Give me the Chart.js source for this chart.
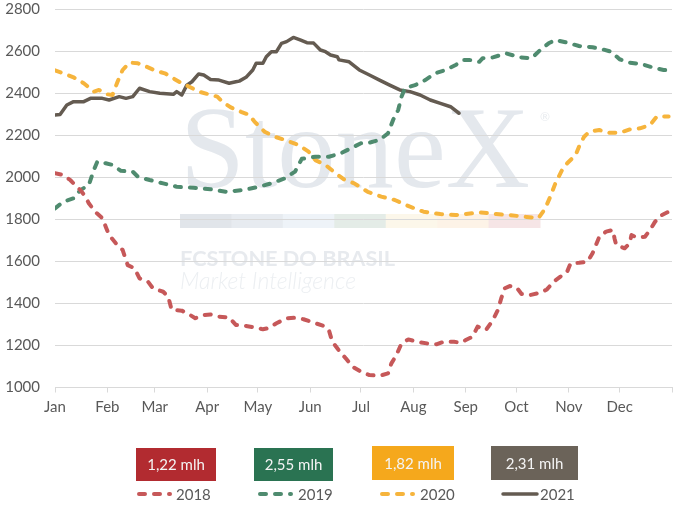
<!DOCTYPE html>
<html>
<head>
<meta charset="utf-8">
<script src="https://cdn.jsdelivr.net/npm/chart.js@4.4.0/dist/chart.umd.min.js"></script>
<style>
  html, body { margin: 0; padding: 0; background: #ffffff; }
  canvas { display: block; }
</style>
</head>
<body>
<canvas id="c" width="683" height="521"></canvas>
<script>
// ---------- DATA ----------
const monthLabels = ['Jan','Feb','Mar','Apr','May','Jun','Jul','Aug','Sep','Oct','Nov','Dec'];
const monthStartDays = [0,31,59,90,120,151,181,212,243,273,304,334,365];
const seriesNames = ['2018','2019','2020','2021'];
const boxLabels = ['1,22 mlh','2,55 mlh','1,82 mlh','2,31 mlh'];

const days2018 = [0,5,9,15,18,20,24,28,30,32,36,40,43,47,50,55,58,64,67,69,75,80,83,88,92,97,103,107,113,119,123,126,131,137,142,147,153,159,162,164,167,169,172,176,181,186,192,197,199,202,205,209,214,220,226,230,236,240,243,247,250,255,259,262,264,266,269,273,276,281,287,291,295,299,303,305,310,315,318,322,326,330,331,332,337,340,341,344,349,352,355,359,363,365];
const vals2018 = [2020,2012,1988,1940,1909,1877,1835,1806,1766,1726,1687,1655,1583,1568,1520,1504,1472,1456,1432,1369,1366,1345,1330,1345,1348,1337,1334,1298,1293,1285,1277,1282,1306,1330,1332,1325,1309,1293,1274,1218,1187,1165,1139,1099,1075,1059,1056,1067,1115,1155,1210,1229,1218,1210,1206,1218,1218,1213,1226,1242,1290,1274,1321,1369,1425,1472,1483,1477,1445,1440,1451,1467,1504,1528,1552,1591,1594,1599,1639,1718,1742,1750,1710,1679,1663,1687,1726,1715,1718,1750,1790,1821,1837,1853];

const days2019 = [0,5,11,15,20,23,25,30,34,39,46,49,56,64,72,82,92,101,111,119,128,136,142,146,154,162,169,175,181,186,192,197,200,203,205,207,213,219,225,231,237,242,245,251,253,259,267,275,282,287,292,296,303,310,318,324,329,334,340,347,354,360,365];
const vals2019 = [1853,1885,1901,1940,1964,2036,2075,2068,2060,2032,2028,2004,1988,1972,1956,1951,1944,1932,1940,1953,1972,1996,2028,2089,2099,2099,2115,2139,2163,2166,2179,2210,2274,2321,2385,2425,2440,2464,2496,2512,2536,2560,2560,2551,2568,2572,2591,2572,2568,2607,2639,2655,2642,2626,2620,2610,2599,2563,2547,2540,2523,2512,2509];

const days2020 = [0,5,11,17,23,26,31,34,37,40,44,49,54,60,65,70,75,80,85,91,96,99,104,110,115,118,124,130,136,144,150,154,160,166,171,177,185,193,201,210,218,228,237,243,251,261,269,279,286,290,293,296,300,303,308,310,313,316,322,328,334,340,346,352,356,363];
const vals2020 = [2510,2496,2477,2449,2409,2417,2396,2393,2456,2512,2547,2544,2528,2507,2496,2472,2449,2430,2409,2396,2385,2361,2334,2313,2298,2266,2218,2194,2179,2155,2123,2083,2060,2020,1991,1972,1932,1909,1893,1861,1837,1826,1821,1826,1834,1826,1821,1812,1806,1853,1909,1972,2036,2068,2107,2147,2194,2218,2226,2213,2213,2229,2234,2250,2290,2290];

const days2021 = [0,3,7,11,17,21,28,32,38,42,46,50,56,62,70,72,75,78,81,85,88,92,97,103,107,109,113,117,119,123,125,128,131,134,137,141,145,149,153,157,160,163,167,168,174,180,186,192,198,204,210,216,222,228,234,239];
const vals2021 = [2298,2300,2345,2361,2361,2377,2377,2369,2385,2377,2385,2425,2409,2401,2396,2409,2393,2440,2456,2493,2488,2467,2464,2449,2456,2459,2477,2512,2544,2544,2575,2599,2599,2639,2647,2667,2655,2642,2640,2607,2599,2583,2575,2560,2551,2512,2488,2464,2440,2417,2409,2393,2369,2353,2337,2306];

const yMin = 1000, yMax = 2800, yStep = 200;

// ---------- STYLE ----------
const lineColors = ['#C65859','#4F8B6F','#F6B43C','#645B51'];
const boxColors  = ['#B22B30','#2A7352','#F5A81C','#6B6359'];
const dashed     = [true, true, true, false];
const FONT = 'Lato, "Noto Sans", sans-serif';

function pts(d, v) { return d.map((x, i) => ({ x: x, y: v[i] })); }
const seriesData = [pts(days2018, vals2018), pts(days2019, vals2019), pts(days2020, vals2020), pts(days2021, vals2021)];

const datasets = seriesNames.map((name, i) => ({
  label: name,
  data: seriesData[i],
  borderColor: lineColors[i],
  borderWidth: dashed[i] ? 4 : 3.5,
  borderDash: dashed[i] ? [6, 9] : [],
  borderCapStyle: 'round',
  borderJoinStyle: 'round',
  pointRadius: 0,
  tension: 0,
  fill: false
}));

// Watermark (drawn behind grid)
const watermark = {
  id: 'watermark',
  beforeDraw(chart) {
    const ctx = chart.ctx;
    ctx.save();
    function fitText(txt, weight, style, family, targetW) {
      ctx.font = style + ' ' + weight + ' 20px ' + family;
      const w = ctx.measureText(txt).width;
      const size = 20 * targetW / w;
      ctx.font = style + ' ' + weight + ' ' + size.toFixed(2) + 'px ' + family;
    }
    ctx.textBaseline = 'alphabetic';
    ctx.textAlign = 'left';
    fitText('StoneX', 'normal', 'normal', '"Liberation Serif", serif', 350);
    ctx.fillStyle = '#E4E8ED';
    ctx.fillText('StoneX', 180, 187);
    ctx.font = '12px ' + FONT;
    ctx.fillStyle = '#E8EBEF';
    ctx.fillText('®', 540, 121);
    const bar = ['#E1E5EA','#E7EBF0','#EEF3F8','#E4ECE7','#FCF7EA','#FDF3E7','#F6E5E6'];
    const bw = 360 / bar.length;
    bar.forEach((c, i) => { ctx.fillStyle = c; ctx.fillRect(180 + i * bw, 214, bw + 0.5, 14); });
    fitText('FCSTONE DO BRASIL', 'bold', 'normal', FONT, 215);
    ctx.fillStyle = '#E7EAEE';
    ctx.fillText('FCSTONE DO BRASIL', 180, 266);
    fitText('Market Intelligence', '300', 'italic', FONT, 176);
    ctx.fillStyle = '#ECEFF2';
    ctx.fillText('Market Intelligence', 180, 289);
    ctx.restore();
  }
};

// Custom bottom legend
const bottomLegend = {
  id: 'bottomLegend',
  afterDraw(chart) {
    const ctx = chart.ctx;
    ctx.save();
    const boxes = [[136,448,80,33],[254,448,79,33],[372,446,82,34],[491,446,87,34]];
    const lineX = [[139,170,176],[260,291,298],[382,413,420],[503,537,540]];
    const ly = 494;
    seriesNames.forEach((name, i) => {
      const b = boxes[i];
      ctx.fillStyle = boxColors[i];
      ctx.fillRect(b[0], b[1], b[2], b[3]);
      ctx.fillStyle = '#F4F4F4';
      ctx.font = '15px ' + FONT;
      ctx.textAlign = 'center';
      ctx.textBaseline = 'middle';
      ctx.fillText(boxLabels[i], b[0] + b[2] / 2, b[1] + b[3] / 2 + 1);
      const l = lineX[i];
      ctx.strokeStyle = lineColors[i];
      ctx.lineCap = 'round';
      ctx.lineWidth = dashed[i] ? 4 : 3.5;
      ctx.setLineDash(dashed[i] ? [6, 9] : []);
      ctx.beginPath();
      ctx.moveTo(l[0], ly);
      ctx.lineTo(l[1], ly);
      ctx.stroke();
      ctx.setLineDash([]);
      ctx.fillStyle = '#595959';
      ctx.textAlign = 'left';
      ctx.fillText(name, l[2], ly + 1);
    });
    ctx.restore();
  }
};

new Chart(document.getElementById('c'), {
  type: 'line',
  data: { datasets: datasets },
  options: {
    responsive: false,
    animation: false,
    devicePixelRatio: 1,
    layout: { padding: { left: 0, right: 11, top: 9.5, bottom: 103.5 } },
    plugins: { legend: { display: false }, tooltip: { enabled: false } },
    scales: {
      x: {
        type: 'linear',
        min: monthStartDays[0],
        max: monthStartDays[monthStartDays.length - 1],
        afterBuildTicks(scale) { scale.ticks = monthStartDays.map(v => ({ value: v })); },
        afterFit(scale) { scale.height = 30; scale.paddingLeft = 0; scale.paddingRight = 0; },
        ticks: {
          autoSkip: false, maxRotation: 0, padding: 6,
          color: '#595959', font: { family: FONT, size: 15 },
          callback: (v, i) => monthLabels[i] !== undefined ? monthLabels[i] : ''
        },
        grid: { drawOnChartArea: false, drawTicks: true, tickLength: 5, color: '#D9D9D9' },
        border: { display: true, color: '#D9D9D9' }
      },
      y: {
        min: yMin, max: yMax,
        afterFit(scale) { scale.width = 55; scale.paddingTop = 0; scale.paddingBottom = 0; },
        ticks: {
          stepSize: yStep, padding: 15, color: '#595959', font: { family: FONT, size: 15 },
          callback: (v) => String(v)
        },
        grid: { color: '#D9D9D9', drawTicks: false },
        border: { display: false }
      }
    }
  },
  plugins: [watermark, bottomLegend]
});
</script>
</body>
</html>
